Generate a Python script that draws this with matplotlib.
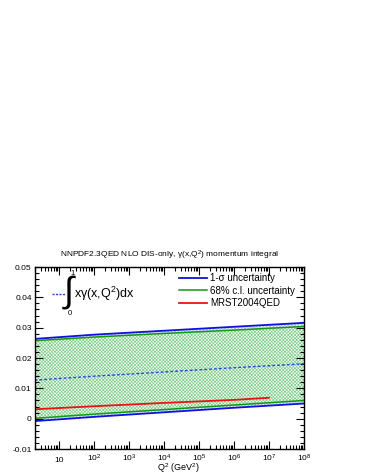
import numpy as np
import matplotlib
matplotlib.use('Agg')
import matplotlib.pyplot as plt
from matplotlib.ticker import MultipleLocator, FixedLocator, LogLocator, NullFormatter

plt.rcParams['font.family'] = ['Liberation Sans', 'DejaVu Sans']
plt.rcParams['mathtext.fontset'] = 'custom'
plt.rcParams['mathtext.rm'] = 'Liberation Sans'
plt.rcParams['mathtext.it'] = 'Liberation Sans:italic'
plt.rcParams['hatch.linewidth'] = 0.5

# values, Q^2 in GeV^2
q2 = [2, 1e2, 1e4, 1e6, 1e8]
sigma_hi = [0.0263, 0.0277, 0.0290, 0.0303, 0.0316]
sigma_lo = [-0.0008, 0.0006, 0.0021, 0.0036, 0.0050]
cl_hi = [0.0257, 0.0269, 0.0281, 0.0292, 0.0304]
cl_lo = [0.0001, 0.0015, 0.0030, 0.0045, 0.0060]
central = [0.0127, 0.0140, 0.0154, 0.0168, 0.0181]
mrst_q2 = [2, 1e2, 1e4, 1e6, 1e7]
mrst = [0.0031, 0.0041, 0.0052, 0.0062, 0.0069]

xtick_pos = [10, 1e2, 1e3, 1e4, 1e5, 1e6, 1e7, 1e8]
xtick_lab = ['10', '10$^{2}$', '10$^{3}$', '10$^{4}$', '10$^{5}$', '10$^{6}$', '10$^{7}$', '10$^{8}$']

fig = plt.figure(figsize=(3.66, 4.73), dpi=100)
ax = fig.add_axes([0.0943, 0.0507, 0.7363, 0.3848])

ax.fill_between(q2, sigma_lo, sigma_hi, facecolor='white', edgecolor='#a8bcf2', hatch='xxxxxxxxxx', linewidth=0)
ax.fill_between(q2, cl_lo, cl_hi, facecolor='white', edgecolor='#7fd08a', hatch='xxxxxxxxxx', linewidth=0)
ax.plot(q2, sigma_hi, color='#1010e0', lw=1.3)
ax.plot(q2, sigma_lo, color='#1010e0', lw=1.3, label='1-σ uncertainty')
ax.plot(q2, cl_hi, color='#119911', lw=1.1)
ax.plot(q2, cl_lo, color='#119911', lw=1.1, label='68% c.l. uncertainty')
ax.plot(mrst_q2, mrst, color='#ee1111', lw=1.3, label='MRST2004QED')
ax.plot(q2, central, color='#2244ee', lw=1.0, ls=(0, (2, 1.5)))

ax.set_xscale('log')
ax.set_xlim(2, 1e8)
ax.set_ylim(-0.01, 0.05)

ax.xaxis.set_major_locator(FixedLocator(xtick_pos))
ax.set_xticklabels(xtick_lab, va='baseline')
ax.xaxis.set_minor_locator(LogLocator(base=10, subs=np.arange(2, 10), numticks=20))
ax.xaxis.set_minor_formatter(NullFormatter())
ax.set_yticks([-0.01, 0, 0.01, 0.02, 0.03, 0.04, 0.05])
ax.set_yticklabels(['-0.01', '0', '0.01', '0.02', '0.03', '0.04', '0.05'])
ax.yaxis.set_minor_locator(MultipleLocator(0.002))
ax.tick_params(which='both', direction='in', top=True, right=True, labelsize=6, width=0.8)
ax.tick_params(which='major', length=6)
ax.tick_params(which='minor', length=3)
ax.tick_params(axis='y', pad=2)
ax.tick_params(axis='x', pad=9)
for s in ax.spines.values():
    s.set_linewidth(1.0)

ax.set_xlabel('Q$^{2}$ (GeV$^{2}$)', fontsize=6.5, labelpad=0)
ax.xaxis.set_label_coords(0.535, -0.065)

ax.set_title('NNPDF2.3QED NLO DIS-only, γ(x,Q$^{2}$) momentum integral', fontsize=6.0, pad=7)

ax.legend(loc='upper left', bbox_to_anchor=(0.537, 0.965), fontsize=7, frameon=False,
          handlelength=2.9, handletextpad=0.25, labelspacing=0.25, borderaxespad=0, borderpad=0)

# integral annotation
ax.plot([0.064, 0.113], [0.852, 0.852], transform=ax.transAxes, color='#2244ee', lw=1.0, ls=(0, (1.5, 1)))
ax.text(0.128, 0.865, '∫', transform=ax.transAxes, fontsize=26, va='center', ha='center',
        family=['Liberation Sans', 'DejaVu Sans'])
ax.text(0.134, 0.965, '1', transform=ax.transAxes, fontsize=5.5, va='center', ha='left')
ax.text(0.122, 0.745, '0', transform=ax.transAxes, fontsize=5.5, va='center', ha='left')
ax.text(0.148, 0.852, 'xγ(x,Q$^{2}$)dx', transform=ax.transAxes, fontsize=9, va='center', ha='left')

fig.savefig('out.png', dpi=100)
